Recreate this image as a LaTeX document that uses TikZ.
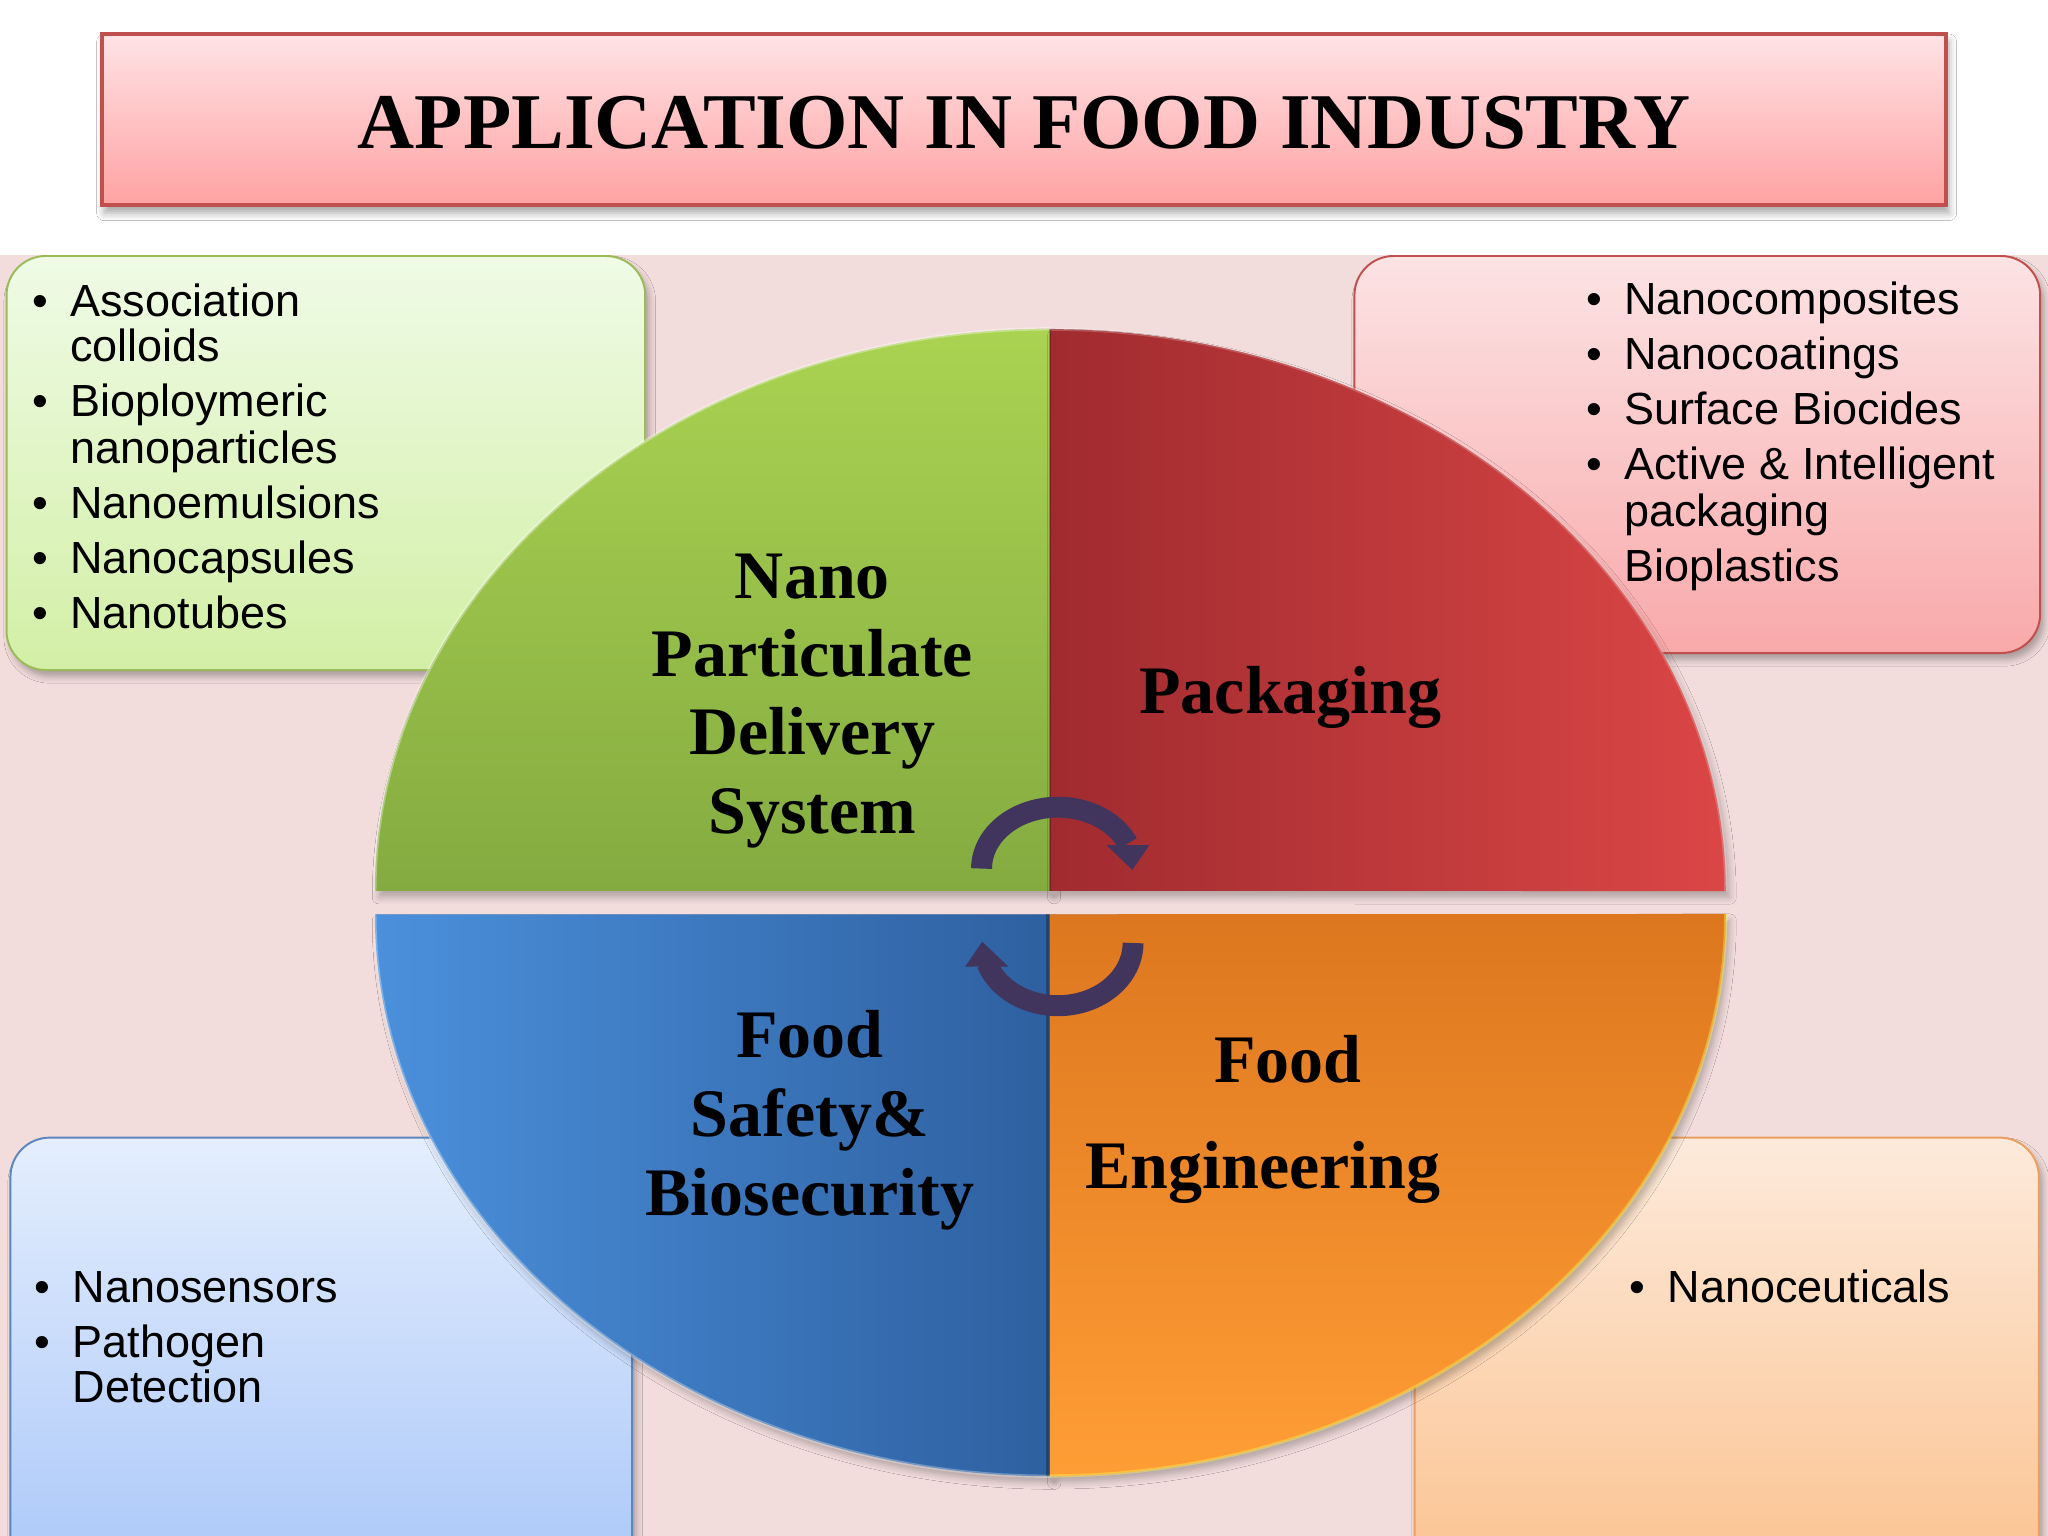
\documentclass[tikz,border=0pt]{standalone}
\usepackage{fontspec}
\setmainfont{Liberation Serif}
\newfontfamily\listfont{Liberation Sans}
\usetikzlibrary{shadows.blur}
\definecolor{bgpink}{HTML}{F2DCDC}
\definecolor{arrowc}{HTML}{41355E}
\definecolor{titletop}{HTML}{FFE3E6}
\definecolor{titlebot}{HTML}{FFA2A2}
\definecolor{titleborder}{HTML}{C0504D}
\definecolor{gboxtop}{HTML}{EFFBE6}
\definecolor{gboxbot}{HTML}{D3EFA6}
\definecolor{gboxborder}{HTML}{9BBB59}
\definecolor{rboxtop}{HTML}{FCE3E4}
\definecolor{rboxbot}{HTML}{F9A9AA}
\definecolor{rboxborder}{HTML}{C0504D}
\definecolor{bboxtop}{HTML}{E4EEFD}
\definecolor{bboxbot}{HTML}{AAC7F9}
\definecolor{bboxborder}{HTML}{5B86BF}
\definecolor{oboxtop}{HTML}{FDEADB}
\definecolor{oboxbot}{HTML}{FBC28F}
\definecolor{oboxborder}{HTML}{EBA060}
\definecolor{greentop}{HTML}{AAD352}
\definecolor{greenbot}{HTML}{84AB40}
\definecolor{redleft}{HTML}{A02B2F}
\definecolor{redright}{HTML}{DB4646}
\definecolor{blueleft}{HTML}{4B90DC}
\definecolor{blueright}{HTML}{2E60A0}
\definecolor{orangetop}{HTML}{DD771F}
\definecolor{orangebot}{HTML}{FF9D35}
\newcommand{\mybul}{\llap{•\hspace{0.17cm}}}
\begin{document}
\begin{tikzpicture}[x=0.01cm,y=-0.01cm,
  listtext/.style={anchor=base west, inner sep=0pt, font=\listfont\fontsize{9.8}{11}\selectfont},
  quadlabel/.style={anchor=base, inner sep=0pt, font=\bfseries\fontsize{14.8}{17}\selectfont},
  sidebox/.style={rounded corners=0.3cm, line width=0.015cm,
     blur shadow={shadow xshift=0.03cm, shadow yshift=-0.05cm, shadow opacity=30, shadow blur radius=0.05cm}},
  quadshadow/.style={blur shadow={shadow xshift=0.03cm, shadow yshift=-0.05cm, shadow opacity=25, shadow blur radius=0.05cm}},
  rim/.style={line width=0.025cm},
  arcarrow/.style={draw=arrowc, line width=0.16cm},
  arrowhead/.style={fill=arrowc}]
\path[use as bounding box, clip] (0,0) rectangle (1568,1176);
% background
\fill[white] (0,0) rectangle (1568,1176);
\fill[bgpink] (0,195) rectangle (1568,1176);
% title
\shade[top color=titletop, bottom color=titlebot, draw=titleborder, line width=0.03cm,
  blur shadow={shadow xshift=0.02cm, shadow yshift=-0.06cm, shadow opacity=35, shadow blur radius=0.06cm}]
  (78,26) rectangle (1490,157);
\node[anchor=base, inner sep=0pt, font=\bfseries\fontsize{17.2}{20}\selectfont] (title) at (784,114) {APPLICATION IN FOOD INDUSTRY};
% side boxes
\shade[sidebox, top color=gboxtop, bottom color=gboxbot, draw=gboxborder] (5,196) rectangle (494,513);
\shade[sidebox, top color=rboxtop, bottom color=rboxbot, draw=rboxborder] (1037,196) rectangle (1562,500);
\shade[sidebox, top color=bboxtop, bottom color=bboxbot, draw=bboxborder] (8,871) rectangle (484,1215);
\shade[sidebox, top color=oboxtop, bottom color=oboxbot, draw=oboxborder] (1083,871) rectangle (1561,1215);
% quadrants
\shade[quadshadow, top color=greentop, bottom color=greenbot]
  (804,682) -- (287,682) arc[start angle=180, end angle=90, x radius=5.17cm, y radius=4.30cm] -- cycle;
\shade[quadshadow, left color=redleft, right color=redright]
  (804,682) -- (804,252) arc[start angle=90, end angle=0, x radius=5.17cm, y radius=4.30cm] -- cycle;
\shade[quadshadow, left color=blueleft, right color=blueright]
  (804,700) -- (287,700) arc[start angle=180, end angle=270, x radius=5.17cm, y radius=4.30cm] -- cycle;
\shade[quadshadow, top color=orangetop, bottom color=orangebot]
  (804,700) -- (804,1130) arc[start angle=270, end angle=360, x radius=5.17cm, y radius=4.30cm] -- cycle;
% rims
\draw[rim, draw=white, opacity=0.35] (287,682) arc[start angle=180, end angle=90, x radius=5.17cm, y radius=4.30cm];
\draw[rim, draw=white, opacity=0.2] (804,252) arc[start angle=90, end angle=0, x radius=5.17cm, y radius=4.30cm];
\draw[rim, draw=white, opacity=0.3] (287,700) arc[start angle=180, end angle=270, x radius=5.17cm, y radius=4.30cm];
\draw[rim, draw=yellow!70!white, opacity=0.4] (804,1130) arc[start angle=270, end angle=360, x radius=5.17cm, y radius=4.30cm];
\draw[line width=0.02cm, draw=black, opacity=0.25] (804,252) -- (804,682);
\draw[line width=0.02cm, draw=black, opacity=0.25] (802,700) -- (802,1130);
% quadrant labels
\node[quadlabel] (nano1) at (622,458) {Nano};
\node[quadlabel] (nano2) at (622,518) {Particulate};
\node[quadlabel] (nano3) at (622,578) {Delivery};
\node[quadlabel] (nano4) at (622,638) {System};
\node[quadlabel] (pack) at (988,546) {Packaging};
\node[quadlabel] (safe1) at (620,810) {Food};
\node[quadlabel] (safe2) at (620,870) {Safety\&};
\node[quadlabel] (safe3) at (620,931) {Biosecurity};
\node[quadlabel] (eng1) at (986,829) {Food};
\node[quadlabel] (eng2) at (967,910) {Engineering};
% circular arrows
\draw[arcarrow] plot[domain=180:336, samples=50] ({810+58.5*cos(\x)}, {665+47*sin(\x)});
\fill[arrowhead] (847,647) -- (880,647) -- (867,666) -- cycle;
\draw[arcarrow] plot[domain=0:161, samples=50] ({810+57.5*cos(\x)}, {722+48*sin(\x)});
\fill[arrowhead] (739,740) -- (772,740) -- (752,721) -- cycle;
% list texts
\node[listtext] (g1) at (53,242) {\mybul Association};
\node[listtext] (g1b) at (53,277) {colloids};
\node[listtext] (g2) at (53,319) {\mybul Bioploymeric};
\node[listtext] (g2b) at (53,355) {nanoparticles};
\node[listtext] (g3) at (53,397) {\mybul Nanoemulsions};
\node[listtext] (g4) at (53,439) {\mybul Nanocapsules};
\node[listtext] (g5) at (53,481) {\mybul Nanotubes};
\node[listtext] (r1) at (1243,241) {\mybul Nanocomposites};
\node[listtext] (r2) at (1243,283) {\mybul Nanocoatings};
\node[listtext] (r3) at (1243,325) {\mybul Surface Biocides};
\node[listtext] (r4) at (1243,367) {\mybul Active \& Intelligent};
\node[listtext] (r4b) at (1243,403) {packaging};
\node[listtext] (r5) at (1243,445) {Bioplastics};
\node[listtext] (b1) at (55,997) {\mybul Nanosensors};
\node[listtext] (b2) at (55,1039) {\mybul Pathogen};
\node[listtext] (b2b) at (55,1074) {Detection};
\node[listtext] (o1) at (1276,997) {\mybul Nanoceuticals};
\end{tikzpicture}
\end{document}
